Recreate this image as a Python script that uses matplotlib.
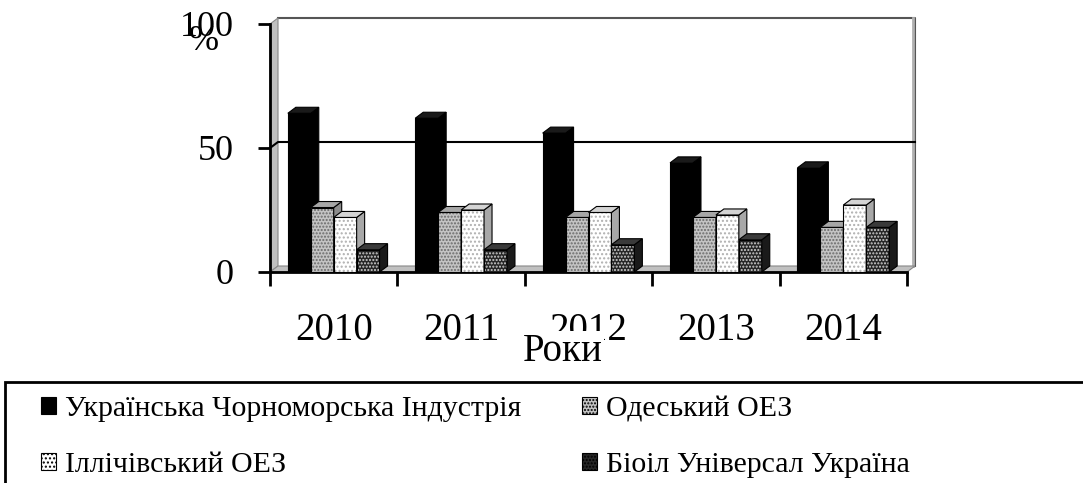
import matplotlib
matplotlib.use('Agg')
import matplotlib.pyplot as plt
import numpy as np
from matplotlib.patches import Polygon, Rectangle, Patch

plt.rcParams['font.family'] = ['Liberation Serif', 'DejaVu Serif']
plt.rcParams['hatch.linewidth'] = 1.0

# data (%)
years = ['2010', '2011', '2012', '2013', '2014']
series_names = ['Українська Чорноморська Індустрія', 'Одеський ОЕЗ',
                'Іллічівський ОЕЗ', 'Біоіл Універсал Україна']
ukr_chorn = [64, 62, 56, 44, 42]
odesa = [26, 24, 22, 22, 18]
illich = [22, 25, 24, 23, 27]
bioil = [9, 9, 11, 13, 18]
values = [ukr_chorn, odesa, illich, bioil]

# look of each series: face, hatch, hatch colour, side face, top face
styles = [
    ('#000000', None, None, '#000000', '#1a1a1a'),
    ('#c4c4c4', '.....', '#6a6a6a', '#8c8c8c', '#a6a6a6'),
    ('#ffffff', '....', '#b0b0b0', '#a8a8a8', '#d4d4d4'),
    ('#262626', '.....', '#d0d0d0', '#1a1a1a', '#3a3a3a'),
]

W, H = 1083, 483
fig = plt.figure(figsize=(W / 100, H / 100), dpi=100)
ax = fig.add_axes([270 / W, (H - 272) / H, 637 / W, 248 / H])
ax.set_xlim(0, 5)
ax.set_ylim(0, 100)

# depth of the fake 3d, in data units (~8px right, ~6px up)
DX = 8 / 127.4
DY = 6 / 2.48

# walls and floor
ax.add_patch(Rectangle((DX, DY), 5, 100, facecolor='white', edgecolor='none',
                       zorder=0, clip_on=False))
ax.plot([DX, 5 + DX, 5 + DX], [100 + DY, 100 + DY, DY], color='#555555',
        lw=1.5, clip_on=False, zorder=1)
ax.plot([5 + DX - 0.012] * 2, [100 + DY, DY], color='#b0b0b0', lw=2,
        clip_on=False, zorder=1)
ax.add_patch(Polygon([(0, 0), (0, 100), (DX, 100 + DY), (DX, DY)],
                     facecolor='#c0c0c0', edgecolor='#888888', lw=0.8,
                     zorder=1, clip_on=False))
ax.add_patch(Polygon([(0, 0), (5, 0), (5 + DX, DY), (DX, DY)],
                     facecolor='#c0c0c0', edgecolor='#888888', lw=0.8,
                     zorder=1, clip_on=False))
ax.plot([0, DX, 5 + DX], [50, 50 + DY, 50 + DY], color='black', lw=1.5,
        clip_on=False, zorder=2)

x = np.arange(len(years)) + 0.5
bw = 0.18
for i, vals in enumerate(values):
    face, hatch, hcol, side, top = styles[i]
    pos = x + (i - 1.5) * bw
    fill = ax.bar(pos, vals, bw, color=face, hatch=hatch,
                  edgecolor=hcol if hcol else face, linewidth=0)
    outline = ax.bar(pos, vals, bw, fill=False, edgecolor='black', linewidth=0.8)
    for j, (p, o) in enumerate(zip(fill.patches, outline.patches)):
        z = 10 + j * 10 + i * 2
        p.set_zorder(z)
        o.set_zorder(z)
        l = p.get_x()
        r = l + p.get_width()
        h = p.get_height()
        ax.add_patch(Polygon([(r, 0), (r, h), (r + DX, h + DY), (r + DX, DY)],
                             facecolor=side, edgecolor='black', lw=0.8,
                             zorder=z + 1, clip_on=False))
        ax.add_patch(Polygon([(l, h), (r, h), (r + DX, h + DY), (l + DX, h + DY)],
                             facecolor=top, edgecolor='black', lw=0.8,
                             zorder=z + 1, clip_on=False))

for s in ['top', 'right']:
    ax.spines[s].set_visible(False)
for s in ['left', 'bottom']:
    ax.spines[s].set_linewidth(2)
    ax.spines[s].set_zorder(5)

ax.set_yticks([0, 50, 100])
ax.set_yticklabels(['0', '50', '100'], fontsize=26)
ax.tick_params(axis='y', direction='out', length=9, width=2, pad=17)

ax.set_xticks(range(6))
ax.set_xticklabels([''] * 6)
ax.tick_params(axis='x', which='major', direction='out', length=10, width=2)
ax.set_xticks(x, minor=True)
ax.set_xticklabels(years, minor=True, fontsize=28)
ax.tick_params(axis='x', which='minor', length=0, pad=29)

ax.set_xlabel('Роки', fontsize=28, labelpad=-12,
              bbox=dict(facecolor='white', edgecolor='none', pad=1))
ax.xaxis.label.set_position((293 / 637, 0))
fig.text(204 / W, 1 - 42 / H, '%', fontsize=26, ha='center', va='center')

# legend box runs past the edges of the picture
fig.patches.append(Rectangle((5 / W, -0.2), 1.2, 0.2 + 1 - 382 / H,
                             transform=fig.transFigure, fill=False,
                             edgecolor='black', lw=2))
handles = [Patch(facecolor=s[0], hatch=s[1], edgecolor='black', lw=0.8)
           for s in styles]
order = [0, 2, 1, 3]
fig.legend([handles[k] for k in order], [series_names[k] for k in order],
           loc='upper left', bbox_to_anchor=(41 / W, 1 - 396 / H), ncol=2,
           frameon=False, fontsize=21.5, handlelength=0.5, handleheight=0.5,
           handletextpad=0.3, columnspacing=2.05, labelspacing=1.0,
           borderpad=0, borderaxespad=0)

fig.savefig('out.png', dpi=100)
